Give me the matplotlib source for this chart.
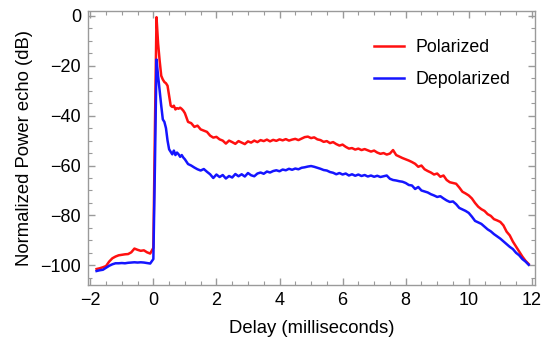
import matplotlib
matplotlib.use("Agg")
from matplotlib import pyplot as plt
from matplotlib.ticker import MultipleLocator
import numpy as np

plt.rcParams["font.family"] = ["Liberation Sans", "DejaVu Sans"]

# delay in ms
delay_pre = [-1.8, -1.7, -1.6, -1.5, -1.4, -1.3, -1.2, -1.1, -1.0, -0.9,
             -0.8, -0.7, -0.6, -0.5, -0.4, -0.3, -0.2, -0.1]
pol_pre = [-101.5, -101.2, -100.8, -100.3, -98.5, -97.2, -96.5, -96.0, -95.8, -95.6,
           -95.5, -94.8, -93.3, -93.8, -94.2, -94.0, -94.8, -95.3]
dep_pre = [-102.3, -102.0, -101.8, -101.0, -100.2, -99.6, -99.2, -99.2, -99.1, -99.2,
           -99.0, -98.9, -98.8, -98.9, -98.8, -98.9, -99.1, -99.3]

delay_pulse = [0.0, 0.05, 0.1, 0.15, 0.2, 0.25, 0.3, 0.35, 0.4, 0.45,
               0.5, 0.55, 0.6, 0.65, 0.7, 0.75, 0.8, 0.85, 0.9, 0.95]
pol_pulse = [-93.0, -45.0, -0.5, -11.0, -18.0, -24.0, -25.5, -26.5, -27.0, -28.0,
             -32.0, -36.0, -36.5, -36.0, -37.5, -37.0, -37.2, -36.8, -37.3, -38.0]
dep_pulse = [-97.5, -60.0, -17.5, -24.0, -30.0, -36.0, -41.5, -42.5, -45.0, -50.0,
             -53.5, -54.5, -55.5, -54.0, -55.8, -54.8, -55.5, -56.5, -55.8, -56.8]

delay_tail = [round(1.0 + 0.1 * i, 1) for i in range(110)]
pol_tail = [-39.0, -42.5, -43.0, -44.5, -44.0, -45.5, -46.0, -46.5, -48.0, -48.8,
            -48.5, -49.5, -50.0, -51.2, -50.0, -50.6, -51.3, -50.2, -50.8, -51.4,
            -50.3, -50.8, -50.0, -50.6, -49.8, -50.2, -49.6, -50.3, -49.7, -50.1,
            -49.5, -49.9, -49.4, -50.0, -49.6, -49.3, -49.8, -49.2, -48.6, -48.4,
            -49.0, -48.7, -49.5, -49.8, -50.5, -50.2, -51.0, -50.6, -51.4, -52.0,
            -51.6, -52.5, -53.2, -53.0, -53.6, -53.2, -53.8, -53.4, -53.9, -54.4,
            -54.0, -54.8, -55.3, -55.0, -55.6, -55.2, -53.8, -55.8, -56.4, -57.0,
            -57.5, -58.0, -58.6, -59.3, -60.5, -60.0, -61.5, -62.2, -62.8, -63.6,
            -63.2, -64.5, -64.0, -65.8, -66.7, -67.0, -67.3, -68.8, -70.5, -71.2,
            -72.0, -73.2, -75.0, -76.5, -77.5, -78.2, -79.5, -80.2, -81.5, -82.0,
            -82.6, -84.0, -86.5, -88.0, -90.5, -92.5, -94.5, -96.5, -98.2, -99.5]
dep_tail = [-57.5, -59.4, -60.0, -60.8, -61.5, -62.0, -61.4, -62.5, -63.5, -65.0,
            -63.6, -64.6, -63.8, -65.2, -64.2, -64.8, -63.4, -64.3, -63.5, -64.4,
            -63.0, -63.9, -64.3, -63.2, -62.8, -63.3, -62.4, -62.8, -62.2, -61.9,
            -62.3, -61.6, -61.9, -61.3, -61.7, -61.2, -61.5, -60.9, -60.7, -60.4,
            -60.2, -60.5, -60.9, -61.3, -61.8, -62.0, -62.6, -62.9, -63.5, -63.0,
            -63.6, -63.2, -64.0, -63.5, -64.1, -63.6, -64.2, -63.8, -64.4, -64.0,
            -64.5, -64.1, -64.6, -64.3, -64.0, -65.3, -65.8, -66.0, -66.3, -66.5,
            -67.0, -67.8, -68.0, -69.4, -68.6, -70.0, -70.4, -70.8, -71.5, -72.0,
            -72.6, -72.3, -73.2, -74.0, -74.6, -74.4, -75.5, -77.0, -77.6, -78.2,
            -79.0, -80.5, -82.2, -82.8, -83.4, -84.5, -85.6, -86.4, -87.5, -88.4,
            -89.3, -90.4, -91.5, -92.6, -93.5, -95.0, -96.0, -97.5, -98.5, -99.8]

delay = delay_pre + delay_pulse + delay_tail
polarized = pol_pre + pol_pulse + pol_tail
depolarized = dep_pre + dep_pulse + dep_tail

fig = plt.figure(figsize=(5.47, 3.42), dpi=100)
ax = fig.add_axes([0.161, 0.166, 0.817, 0.802])

ax.plot(delay, polarized, color="#ff1010", lw=1.8, label="Polarized")
ax.plot(delay, depolarized, color="#1515ff", lw=1.8, label="Depolarized")

ax.set_xlim(-2.07, 12.1)
ax.set_ylim(-108, 2)
ax.xaxis.set_major_locator(MultipleLocator(2))
ax.xaxis.set_minor_locator(MultipleLocator(0.5))
ax.yaxis.set_major_locator(MultipleLocator(20))
ax.yaxis.set_minor_locator(MultipleLocator(5))

frame = "#9a9a9a"
for s in ax.spines.values():
    s.set_color(frame)
    s.set_linewidth(1.0)
ax.tick_params(which="both", direction="in", top=True, right=True, color=frame,
               labelsize=13, pad=5)
ax.tick_params(which="major", length=5, width=1)
ax.tick_params(which="minor", length=3, width=0.8)

ax.set_xlabel("Delay (milliseconds)", fontsize=13.3, labelpad=8)
ax.set_ylabel("Normalized Power echo (dB)", fontsize=13.3, labelpad=5)

ax.legend(loc="upper right", bbox_to_anchor=(0.98, 0.955), frameon=False,
          fontsize=12.8, handlelength=1.7, handletextpad=0.6, labelspacing=0.85)

fig.savefig("out.png", dpi=100)
